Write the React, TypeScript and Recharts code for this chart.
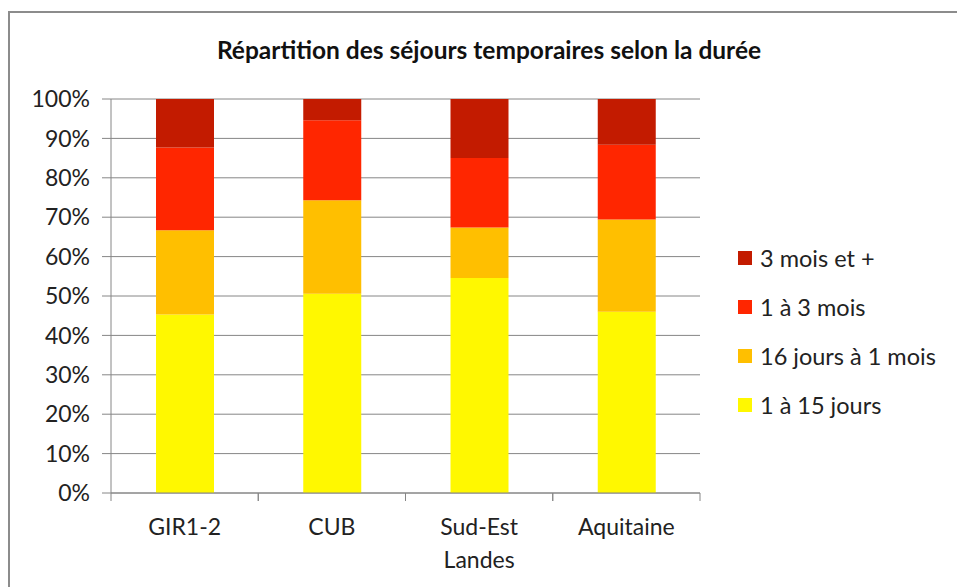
import React from 'react';
import { BarChart, Bar, XAxis, YAxis, CartesianGrid } from 'recharts';

// Catégories et parts (%)
const categories = ['GIR1-2', 'CUB', 'Sud-Est Landes', 'Aquitaine'];
const unAQuinzeJours = [45.3, 50.6, 54.6, 46.0];
const seizeJoursAUnMois = [21.4, 23.7, 12.8, 23.4];
const unATroisMois = [21.0, 20.3, 17.6, 19.0];
const troisMoisEtPlus = [12.3, 5.4, 15.0, 11.6];
const yTicks = [0, 10, 20, 30, 40, 50, 60, 70, 80, 90, 100];

const series = [
    { key: 'j15', name: '1 à 15 jours', values: unAQuinzeJours, color: '#FFF800' },
    { key: 'j30', name: '16 jours à 1 mois', values: seizeJoursAUnMois, color: '#FFBF00' },
    { key: 'm3', name: '1 à 3 mois', values: unATroisMois, color: '#FF2600' },
    { key: 'm3p', name: '3 mois et +', values: troisMoisEtPlus, color: '#C31B00' },
];

const data = categories.map((name, i) => {
    const row: Record<string, string | number> = { name };
    series.forEach(s => { row[s.key] = s.values[i]; });
    return row;
});

const FONT = 'Lato, "Open Sans", sans-serif';
const W = 957;
const H = 587;
const PLOT_LEFT = 111;
const PLOT_RIGHT = 700;
const PLOT_TOP = 99;
const PLOT_BOTTOM = 493;
const BAND = (PLOT_RIGHT - PLOT_LEFT) / categories.length;

const CategoryTick = (props: any) => {
    const { x, y, payload } = props;
    const lines = String(payload.value).split(' ');
    return (
        <g>
            <line x1={x - BAND / 2} x2={x - BAND / 2} y1={y - 10} y2={y - 2} stroke="#868686" />
            <line x1={x + BAND / 2} x2={x + BAND / 2} y1={y - 10} y2={y - 2} stroke="#868686" />
            {lines.map((l, i) => (
                <text key={i} x={x} y={y + 32 + i * 33} textAnchor="middle" fontSize={23} fill="#222" fontFamily={FONT}>
                    {l}
                </text>
            ))}
        </g>
    );
};

export default function App() {
    return (
        <div style={{ position: 'fixed', left: 0, top: 0, width: W, height: H, overflow: 'hidden', background: '#fff' }}>
            <div style={{ position: 'absolute', left: 8, top: 11, width: 1000, height: 700, borderTop: '2px solid #8c8c8c', borderLeft: '2px solid #8c8c8c' }} />
            <div style={{ position: 'absolute', left: 0, width: 978, top: 35, textAlign: 'center', fontFamily: FONT, fontWeight: 700, fontSize: 24.5, lineHeight: '30px', color: '#111' }}>
                Répartition des séjours temporaires selon la durée
            </div>
            <div style={{ position: 'absolute', left: 0, top: 0 }}>
                <BarChart
                    width={W}
                    height={H}
                    data={data}
                    margin={{ top: PLOT_TOP, right: W - PLOT_RIGHT, bottom: 0, left: 0 }}
                    barSize={58}
                >
                    <CartesianGrid vertical={false} stroke="#868686" />
                    <XAxis
                        dataKey="name"
                        stroke="#868686"
                        tickLine={false}
                        tick={<CategoryTick />}
                        height={H - PLOT_BOTTOM}
                        interval={0}
                        tickSize={8}
                    />
                    <YAxis
                        width={PLOT_LEFT}
                        domain={[0, 100]}
                        ticks={yTicks}
                        tickFormatter={(v: number) => `${v}%`}
                        stroke="#868686"
                        tickSize={9}
                        tickMargin={12}
                        tick={{ fontSize: 23, fill: '#222', fontFamily: FONT }}
                    />
                    {series.map(s => (
                        <Bar key={s.key} dataKey={s.key} name={s.name} stackId="a" fill={s.color} isAnimationActive={false} />
                    ))}
                </BarChart>
            </div>
            <div style={{ position: 'absolute', left: 738, top: 233, fontFamily: FONT, fontSize: 23.5, color: '#222' }}>
                {[...series].reverse().map(s => (
                    <div key={s.key} style={{ display: 'flex', alignItems: 'center', height: 49 }}>
                        <span style={{ width: 14, height: 14, background: s.color, marginRight: 8, display: 'inline-block' }} />
                        <span style={{ whiteSpace: 'nowrap' }}>{s.name}</span>
                    </div>
                ))}
            </div>
        </div>
    );
}
